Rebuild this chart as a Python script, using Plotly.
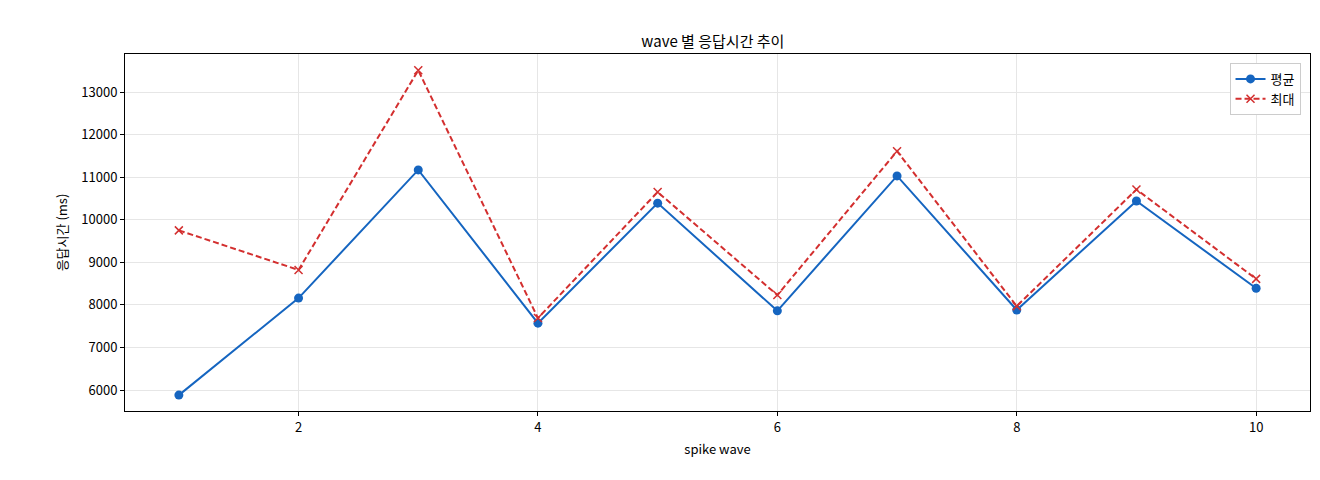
import plotly.graph_objects as go

waves = [1, 2, 3, 4, 5, 6, 7, 8, 9, 10]
avg_ms = [5880, 8160, 11170, 7570, 10390, 7860, 11030, 7880, 10440, 8390]
max_ms = [9750, 8820, 13510, 7690, 10650, 8230, 11610, 7970, 10710, 8610]

font = "Noto Sans CJK KR, DejaVu Sans"

fig = go.Figure()
fig.add_trace(go.Scatter(
    x=waves, y=avg_ms, name="평균", mode="lines+markers",
    line=dict(color="#1565c0", width=2),
    marker=dict(symbol="circle", size=9, color="#1565c0"),
))
fig.add_trace(go.Scatter(
    x=waves, y=max_ms, name="최대", mode="lines+markers",
    line=dict(color="#d32f2f", width=2, dash="6px,3px"),
    marker=dict(symbol="x-thin", size=8, line=dict(color="#d32f2f", width=1.5)),
))

axis_style = dict(
    showline=True, linecolor="black", mirror=True, linewidth=1,
    showgrid=True, gridcolor="#e6e6e6", zeroline=False,
    ticks="outside", tickcolor="black", ticklen=4,
    tickfont=dict(size=13, color="black"), automargin=False,
)

fig.update_layout(
    width=1320, height=480,
    margin=dict(l=117, r=18, t=46, b=77),
    plot_bgcolor="white", paper_bgcolor="white",
    font=dict(family=font, color="black"),
    title=dict(text="wave 별 응답시간 추이", x=0.534, xanchor="center",
               y=0.94, font=dict(size=15)),
    xaxis=dict(title=dict(text="spike wave", font=dict(size=13), standoff=10),
               range=[0.55, 10.45], tickvals=[2, 4, 6, 8, 10], **axis_style),
    yaxis=dict(title=dict(text="응답시간 (ms)", font=dict(size=13), standoff=10),
               range=[5507, 13893], dtick=1000, tickformat="d", **axis_style),
    legend=dict(x=0.992, y=0.975, xanchor="right", yanchor="top",
                bgcolor="white", bordercolor="#cccccc", borderwidth=1,
                font=dict(size=13)),
)

fig.write_html("out.html")
